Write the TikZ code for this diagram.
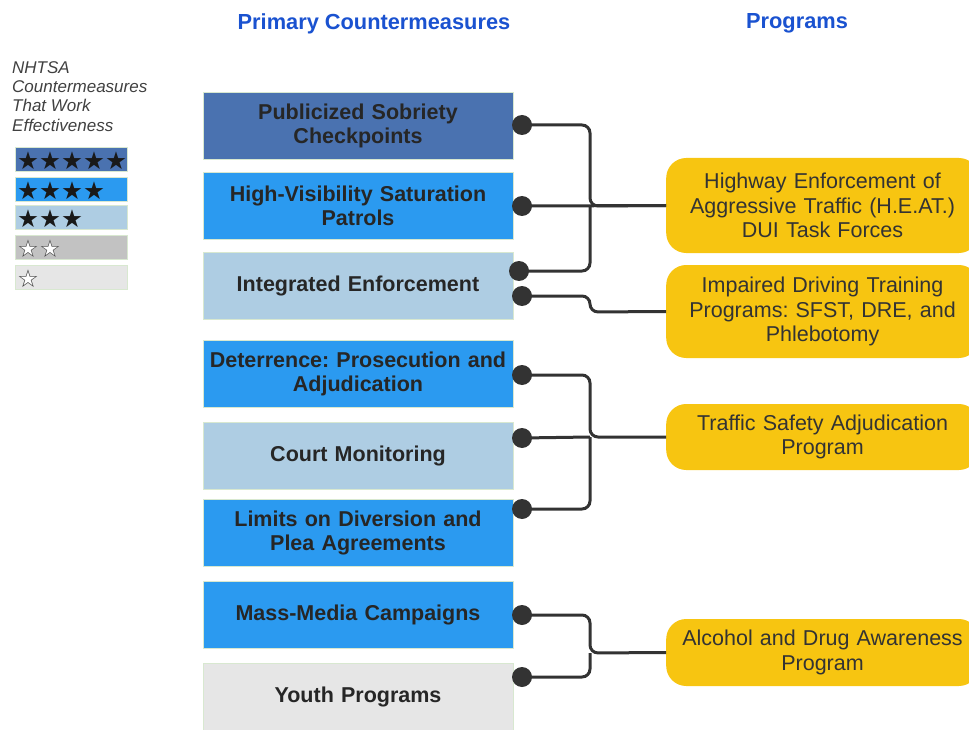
\documentclass[tikz,border=0pt]{standalone}
\usepackage{fontspec}
\setmainfont{Liberation Sans}
\newfontfamily\symfont{DejaVu Sans}
\frenchspacing
\definecolor{cdark}{HTML}{4A72B0}
\definecolor{cbright}{HTML}{2B9AF0}
\definecolor{clight}{HTML}{AECDE3}
\definecolor{cgrey}{HTML}{C2C2C2}
\definecolor{cpale}{HTML}{E6E6E6}
\definecolor{cyellow}{HTML}{F7C511}
\definecolor{chead}{HTML}{1A52D0}
\definecolor{cline}{HTML}{333333}
\definecolor{cedge}{HTML}{D8E8D0}
\begin{document}
\frenchspacing
\begin{tikzpicture}[x=1pt,y=-1pt,
  cmbox/.style={draw=cedge, line width=0.6pt, minimum width=310pt, minimum height=67pt, inner sep=2pt, align=center, text width=306pt, font=\frenchspacing\fontsize{21.5}{24}\selectfont\bfseries, text=black!85},
  progbox/.style={fill=cyellow, draw=none, rounded corners=20pt, minimum width=310pt, align=center, text width=306pt, font=\frenchspacing\fontsize{21.5}{24.5}\selectfont, text=black!80, anchor=west},
  dotnode/.style={circle, fill=cline, minimum size=20pt, inner sep=0pt},
  conn/.style={draw=cline, line width=3pt, rounded corners=8pt},
  legbox/.style={draw=cedge, line width=0.6pt, minimum width=112pt, minimum height=24pt, anchor=north west, inner sep=0pt},
  starrow/.style={font=\symfont\fontsize{24.5}{24}\selectfont, anchor=west, inner sep=0pt, text=black!90},
  headtxt/.style={font=\fontsize{21.8}{24}\selectfont\bfseries, text=chead}
]
\useasboundingbox (0,0) rectangle (969,730);
\clip (0,0) rectangle (969,730);

% headers
\node[headtxt] (h1) at (374,23.5) {Primary Countermeasures};
\node[headtxt] (h2) at (797,23.5) {Programs};

% legend
\node[anchor=north west, align=left, inner sep=0pt, font=\fontsize{17}{19.4}\selectfont\itshape, text=black!75] (legtext) at (12,61) {NHTSA\\Countermeasures\\That Work\\Effectiveness};
\node[legbox, fill=cdark] (l5) at (15,147) {};
\node[legbox, fill=cbright] (l4) at (15,177) {};
\node[legbox, fill=clight] (l3) at (15,205) {};
\node[legbox, fill=cgrey] (l2) at (15,235) {};
\node[legbox, fill=cpale] (l1) at (15,265) {};
\node[starrow] (s5) at ([xshift=2pt,yshift=-1pt]l5.west) {★★★★★};
\node[starrow] (s4) at ([xshift=2pt,yshift=-1pt]l4.west) {★★★★};
\node[starrow] (s3) at ([xshift=2pt,yshift=-1pt]l3.west) {★★★};
\node[starrow, text=white] (s2w) at ([xshift=2pt,yshift=-1pt]l2.west) {★★};
\node[starrow, text=black!75] (s2) at ([xshift=2pt,yshift=-1pt]l2.west) {☆☆};
\node[starrow, text=white] (s1w) at ([xshift=2pt,yshift=-1pt]l1.west) {★};
\node[starrow, text=black!75] (s1) at ([xshift=2pt,yshift=-1pt]l1.west) {☆};

% countermeasures
\node[cmbox, fill=cdark] (c1) at (358,126) {Publicized Sobriety\\Checkpoints};
\node[cmbox, fill=cbright] (c2) at (358,205.5) {High-Visibility Saturation\\Patrols};
\node[cmbox, fill=clight] (c3) at (358,285.5) {Integrated Enforcement};
\node[cmbox, fill=cbright] (c4) at (358,373.5) {Deterrence: Prosecution and\\Adjudication};
\node[cmbox, fill=clight] (c5) at (358,455.5) {Court Monitoring};
\node[cmbox, fill=cbright] (c6) at (358,532.5) {Limits on Diversion and\\Plea Agreements};
\node[cmbox, fill=cbright] (c7) at (358,614.5) {Mass-Media Campaigns};
\node[cmbox, fill=cpale] (c8) at (358,697) {Youth Programs};

% programs
\node[progbox, minimum height=95pt] (p1) at (666,205.5) {Highway Enforcement of\\Aggressive Traffic (H.E.AT.)\\DUI Task Forces};
\node[progbox, minimum height=93pt] (p2) at (666,311.5) {Impaired Driving Training\\Programs: SFST, DRE, and\\Phlebotomy};
\node[progbox, minimum height=66pt] (p3) at (666,437) {Traffic Safety Adjudication\\Program};
\node[progbox, minimum height=67pt] (p4) at (666,652.5) {Alcohol and Drug Awareness\\Program};

% junctions
\coordinate (j1) at (590,206);
\coordinate (j2) at (590,312);
\coordinate (j3) at (590,437);
\coordinate (j4) at (590,653);

% dots
\node[dotnode] (d1) at (522,125) {};
\node[dotnode] (d2) at (522,206) {};
\node[dotnode] (d3) at (519,271) {};
\node[dotnode] (d4) at (522,296) {};
\node[dotnode] (d5) at (522,375) {};
\node[dotnode] (d6) at (522,438) {};
\node[dotnode] (d7) at (522,509) {};
\node[dotnode] (d8) at (522,615) {};
\node[dotnode] (d9) at (522,677) {};

% connectors
\draw[conn] (d1.center) -| (j1) -- (p1.west);
\draw[conn] (d2.center) -- (p1.west);
\draw[conn] (d3.center) -| (j1);
\draw[conn] (d4.center) -| (j2) -- (p2.west);
\draw[conn] (d5.center) -| (j3) -- (p3.west);
\draw[conn] (d6.center) -- (j3);
\draw[conn] (d7.center) -| (j3);
\draw[conn] (d8.center) -| (j4) -- (p4.west);
\draw[conn] (d9.center) -| (j4);
\end{tikzpicture}
\end{document}
